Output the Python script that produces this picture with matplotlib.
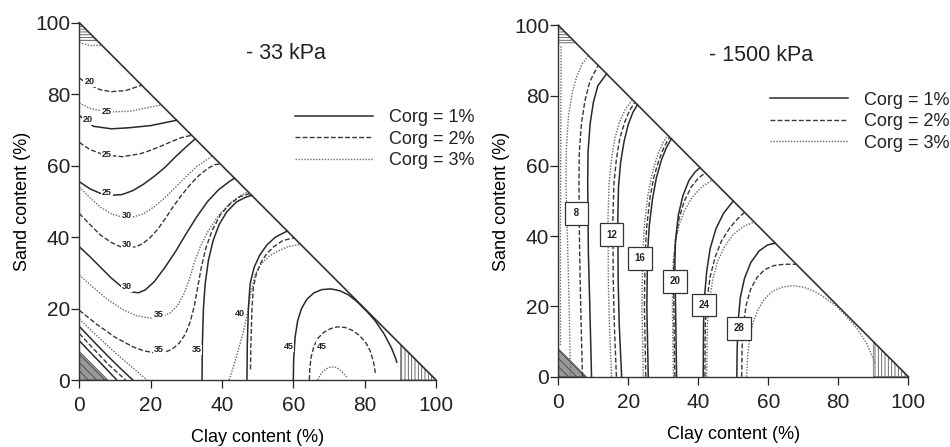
import matplotlib
matplotlib.use('Agg')
import matplotlib.pyplot as plt
from matplotlib.patches import Polygon

plt.rcParams['font.family'] = ['Liberation Sans', 'DejaVu Sans']
plt.rcParams['hatch.linewidth'] = 0.6
plt.rcParams['hatch.color'] = '#555555'

# ---- -33 kPa panel: contour lines, (clay %, sand %) points ----
# Corg = 3% (dotted)
k33_c3_20 = [(0, 94.5), (3, 93.6), (6.3, 93.7)]
k33_c3_25 = [(0, 77.5), (3, 76), (8, 75), (14, 75.2), (19, 76.2), (23, 77)]
k33_c3_30 = [(0, 54), (3, 51), (6, 48.3), (9, 46.5), (12, 45.6), (15, 45.6), (18, 46.5), (21, 48.5),
             (24, 51), (27, 54), (30, 57), (33, 59.8), (35.5, 61.5), (37.3, 62.7)]
k33_c3_35 = [(0, 29.4), (4, 25.8), (8, 22.5), (12, 19.8), (16, 18), (20, 17.3), (23, 17.6), (25.5, 18.8),
             (27.5, 20.8), (29.3, 24), (30.8, 28), (32.3, 33), (34, 37.5), (36.3, 42), (39, 46),
             (42, 49.3), (45, 51.5), (47.3, 52.7)]
k33_c3_40 = [(42, 0), (43.3, 4), (44.6, 8.5), (46, 13.5), (47.2, 19), (48.2, 25), (49.3, 29.5),
             (51, 32.5), (53, 34.5), (55.5, 36), (58.5, 37.3), (62, 38)]
k33_c3_45 = [(66.8, 0), (67.8, 1.8), (69, 3), (70.5, 3.7), (72, 3.5), (73.5, 2.5), (75, 0.8)]
k33_c3_low = [(0, 17), (5, 12.3), (10, 7.7), (15, 3.4), (19, 0)]
# Corg = 2% (dashed)
k33_c2_20 = [(0, 84.5), (3, 82.5), (6, 81.2), (9, 80.7), (13, 81), (17.5, 82.5)]
k33_c2_25 = [(0, 66.5), (3, 64.5), (7, 63), (12, 62.5), (17, 63.3), (20, 64.3), (23, 65.5),
             (26, 66.8), (28.5, 67.8), (31.5, 68.5)]
k33_c2_30 = [(0, 46.6), (3, 43.5), (6, 40.5), (9, 38.5), (11.5, 37.3), (13.7, 37), (16, 37.3), (18, 38.3),
             (20, 40), (22, 42.2), (24, 45), (26.3, 48.5), (28.5, 51.5), (31, 54.6), (33.5, 57.2),
             (36, 59.2), (38, 60.3), (39.6, 60.4)]
k33_c2_35 = [(0, 19.5), (5, 15.5), (10, 12), (15, 9.3), (18, 8.2), (21, 7.6), (24, 7.8), (26, 8.6),
             (28, 10.3), (29.7, 12.8), (31, 16), (32.2, 20.5), (33.2, 26), (34.2, 31.5), (35.5, 37),
             (37.3, 42), (39.6, 46.3), (42.5, 49.5), (45, 51.3), (47.8, 52.2)]
k33_c2_40 = [(48, 3), (48.1, 10), (48.4, 20), (48.8, 26), (49.7, 30), (51, 33), (52.5, 35.3),
             (54.5, 37.3), (57, 39), (60.2, 39.8)]
k33_c2_45 = [(64.5, 0), (64.6, 3), (65, 6.5), (65.8, 9.5), (67, 11.8), (68.5, 13.3), (70.5, 14.4),
             (72.5, 14.9), (74.5, 14.7), (76.5, 13.9), (78.5, 12.5), (80.3, 10.5), (81.6, 8),
             (82.5, 5), (83, 2)]
k33_c2_low = [(0, 13), (4, 8.7), (8, 4.5), (13, 0)]
# Corg = 1% (solid)
k33_c1_20 = [(0, 74), (4, 71), (9, 70.3), (14, 70.6), (20, 71.2), (27.3, 72.7)]
k33_c1_25 = [(0, 55.5), (3, 53.5), (6, 52.2), (9, 51.7), (12, 51.9), (15, 53), (18, 54.8), (21, 57),
             (24, 59.5), (27, 62.5), (30, 65.3), (32.5, 67.5)]
k33_c1_30 = [(0, 37.3), (3, 34.5), (6, 31.5), (9, 28.5), (12, 26), (14.5, 24.7), (16.5, 24.4),
             (18.5, 25.2), (21, 27.5), (24, 31.5), (27, 36), (30, 41), (33, 45.8), (36, 50),
             (39, 53.2), (42, 55.5), (43.5, 56.5)]
k33_c1_35 = [(34.4, 0), (34.5, 10), (34.8, 20), (35.3, 27), (36.2, 33.5), (37.5, 39), (39.2, 43.5),
             (41.3, 47), (44, 49.8), (46.3, 51), (48.3, 51.7)]
k33_c1_40 = [(47, 0), (47.1, 10), (47.4, 20), (47.9, 27), (49, 31.5), (50.6, 35), (52.6, 37.8),
             (55, 40), (58.3, 41.7)]
k33_c1_45 = [(60, 0), (60.1, 6), (60.5, 12), (61.2, 16.5), (62.3, 20), (63.8, 22.6), (65.8, 24.4),
             (68, 25.3), (70.5, 25.5), (73, 25), (75.5, 23.8), (78, 21.8), (80.5, 19.3), (83, 16.5),
             (85.5, 12.8), (87.5, 9), (88.6, 6.3), (89, 5)]
k33_c1_low_a = [(0, 15), (4, 10.8), (8, 6.7), (12, 2.8), (15, 0)]
k33_c1_low_b = [(0, 11), (4, 6.8), (7, 3.7), (10.5, 0)]

# contour labels (value, clay, sand)
k33_labels = [('20', 2.8, 83.5), ('20', 2.5, 72.8), ('25', 7.8, 75.1), ('25', 7.8, 63.2),
              ('25', 7.8, 52.6), ('30', 13.3, 45.9), ('30', 13.3, 37.8), ('30', 13.3, 26.1),
              ('35', 22.4, 18.2), ('35', 22.4, 8.4), ('35', 32.9, 8.4), ('40', 45, 18.7),
              ('45', 58.6, 9.3), ('45', 67.9, 9.3)]

# ---- -1500 kPa panel ----
k1500_c3_4 = [(0.8, 94), (0.7, 70), (0.6, 40), (0.6, 9)]
k1500_c3_8 = [(3.5, 0), (3.1, 20), (2.6, 40), (2.2, 55), (2.3, 65), (2.9, 74), (4, 81), (5.3, 85.5),
              (6.8, 89), (8.6, 91.4)]
k1500_c3_12 = [(15.2, 0), (14.6, 15), (14.3, 27.5), (14.2, 45), (14.5, 55), (15.2, 62), (16.2, 68),
               (17.5, 72.5), (19.2, 76.2), (21.2, 78.8)]
k1500_c3_16 = [(24.3, 0), (23.9, 20), (24.1, 35), (24.6, 43), (25.5, 51), (26.6, 57), (28, 62),
               (29.6, 66), (31.2, 68.8)]
k1500_c3_20 = [(32.9, 0), (32.6, 20), (32.8, 32), (33.4, 38), (34.6, 43.5), (36.2, 47.5), (38.2, 51),
               (41, 54), (44, 56)]
k1500_c3_24 = [(42.4, 0), (42.6, 15), (43.2, 22), (44.2, 28), (45.6, 33), (47.5, 37), (50, 40.5),
               (53, 42.8), (56, 44)]
k1500_c3_28 = [(53.8, 0), (54.1, 6), (54.7, 11), (55.6, 15.3), (57, 19), (58.8, 22), (61.2, 24.3),
               (64, 25.5), (67, 25.9), (70, 25.5), (73, 24.4), (76, 22.6), (79.5, 20), (82.4, 17.1),
               (85.5, 13.5), (88.1, 9.5), (90.5, 3.8)]
k1500_c2_8 = [(6.9, 0), (6.4, 20), (6.1, 35), (5.9, 55), (6, 64), (6.6, 72), (7.6, 78.5), (9, 84),
              (11.4, 88.6)]
k1500_c2_12 = [(16.6, 0), (16, 15), (15.7, 27.5), (15.6, 45), (15.9, 55), (16.6, 62), (17.6, 68),
               (19, 72.5), (20.4, 75.8), (21.9, 78.1)]
k1500_c2_16 = [(25, 0), (24.6, 20), (24.8, 35), (25.3, 43), (26.2, 51), (27.3, 56.8), (28.7, 61.5),
               (30.2, 65.3), (31.8, 68.2)]
k1500_c2_20 = [(33.3, 0), (33, 20), (33, 32), (33.5, 39), (34.5, 45), (36, 50), (38, 54), (40, 56.5),
               (42, 58)]
k1500_c2_24 = [(41.9, 0), (42, 15), (42.5, 22), (43.4, 28.5), (44.8, 34), (46.7, 38.8), (49.1, 42.5),
               (51.5, 45.2), (53.2, 46.8)]
k1500_c2_28 = [(52.4, 0), (52.5, 8), (52.9, 15), (53.7, 20.5), (55, 25), (56.8, 28.3), (59, 30.5),
               (61.5, 31.6), (64.5, 32), (68, 32)]
k1500_c1_8 = [(9.5, 0), (9, 20), (8.6, 35), (8.4, 55), (8.5, 64), (9.1, 72), (10, 78), (11.3, 82.8),
              (13.8, 86.2)]
k1500_c1_12 = [(18.1, 0), (17.4, 15), (17.1, 27.5), (17, 45), (17.2, 54), (17.8, 61), (18.8, 67),
               (20, 71.8), (21.3, 75.2), (22.6, 77.4)]
k1500_c1_16 = [(25.7, 0), (25.3, 20), (25.5, 35), (26, 43), (26.9, 50.5), (28, 56.5), (29.4, 61.5),
               (30.8, 65), (32.3, 67.7)]
k1500_c1_20 = [(33.8, 0), (33.5, 20), (33.3, 32), (33.5, 39), (34.3, 46), (35.6, 51.5), (37.3, 55.8),
               (39, 58.2), (40.5, 59.5)]
k1500_c1_24 = [(41.4, 0), (41.5, 15), (41.8, 23), (42.4, 30), (43.4, 36.5), (45, 42), (47.2, 46.5),
               (50, 50)]
k1500_c1_28 = [(51, 0), (51.1, 8), (51.4, 16), (52, 22.5), (53.2, 28), (55, 32.5), (57.4, 35.8),
               (59.8, 37.5), (62, 38)]

k1500_labels = [(' 8 ', 5.2, 46.5), ('12', 15.2, 40.4), ('16', 23.3, 33.7),
                ('20', 33.3, 27.1), ('24', 41.6, 20.4), ('28', 51.7, 13.8)]

corg_names = ['Corg = 1%', 'Corg = 2%', 'Corg = 3%']
ticks = [0, 20, 40, 60, 80, 100]

styles = {
    1: dict(ls='-', color='#2a2a2a', lw=1.1),
    2: dict(ls=(0, (3.5, 1.6)), color='#383838', lw=1.0),
    3: dict(ls=(0, (1, 1.1)), color='#6a6a6a', lw=1.0),
}

k33_lines = [(k33_c3_20, 3), (k33_c3_25, 3), (k33_c3_30, 3), (k33_c3_35, 3), (k33_c3_40, 3),
             (k33_c3_45, 3), (k33_c3_low, 3),
             (k33_c2_20, 2), (k33_c2_25, 2), (k33_c2_30, 2), (k33_c2_35, 2), (k33_c2_40, 2),
             (k33_c2_45, 2), (k33_c2_low, 2),
             (k33_c1_20, 1), (k33_c1_25, 1), (k33_c1_30, 1), (k33_c1_35, 1), (k33_c1_40, 1),
             (k33_c1_45, 1), (k33_c1_low_a, 1), (k33_c1_low_b, 1)]
k1500_lines = [(k1500_c3_4, 3), (k1500_c3_8, 3), (k1500_c3_12, 3), (k1500_c3_16, 3), (k1500_c3_20, 3),
               (k1500_c3_24, 3), (k1500_c3_28, 3),
               (k1500_c2_8, 2), (k1500_c2_12, 2), (k1500_c2_16, 2), (k1500_c2_20, 2),
               (k1500_c2_24, 2), (k1500_c2_28, 2),
               (k1500_c1_8, 1), (k1500_c1_12, 1), (k1500_c1_16, 1), (k1500_c1_20, 1),
               (k1500_c1_24, 1), (k1500_c1_28, 1)]


def setup(ax):
    ax.set_xlim(0, 100)
    ax.set_ylim(0, 100)
    for s in ('top', 'right'):
        ax.spines[s].set_visible(False)
    for s in ('left', 'bottom'):
        ax.spines[s].set_linewidth(1.0)
        ax.spines[s].set_color('#333333')
    ax.set_xticks(ticks)
    ax.set_yticks(ticks)
    ax.tick_params(direction='out', length=5.5, width=0.9, labelsize=15, colors='#222222')
    ax.tick_params(axis='x', pad=6)
    ax.tick_params(axis='y', pad=1)
    ax.set_xlabel('Clay content (%)', fontsize=13, labelpad=10)
    ax.set_ylabel('Sand content (%)', fontsize=13, labelpad=3)
    ax.plot([0, 100], [100, 0], color='#333333', lw=1.2, clip_on=False)
    # hatched corners
    ax.add_patch(Polygon([(0, 95), (0, 100), (5, 95)], closed=True, fill=False,
                         hatch='------', lw=0.5, edgecolor='#555555'))
    ax.add_patch(Polygon([(0, 0), (0, 8), (8, 0)], closed=True, facecolor='#9a9a9a',
                         hatch='\\\\\\\\', lw=0.5, edgecolor='#444444'))
    ax.add_patch(Polygon([(90, 0), (90, 10), (100, 0)], closed=True, fill=False,
                         hatch='|||||', lw=0.5, edgecolor='#555555'))


def draw_lines(ax, lines):
    handles = {}
    for pts, corg in lines:
        xs = [p[0] for p in pts]
        ys = [p[1] for p in pts]
        h, = ax.plot(xs, ys, solid_joinstyle='round', **styles[corg])
        handles[corg] = h
    return [handles[1], handles[2], handles[3]]


fig = plt.figure(figsize=(9.5, 4.47), dpi=100)
ax1 = fig.add_axes([79.3 / 950, (447 - 380) / 447, 356.7 / 950, 357.3 / 447])
ax2 = fig.add_axes([558.3 / 950, (447 - 376.7) / 447, 350 / 950, 351.4 / 447])

for ax, lines, title in ((ax1, k33_lines, '- 33 kPa'), (ax2, k1500_lines, '- 1500 kPa')):
    setup(ax)
    hs = draw_lines(ax, lines)
    ax.text(58, 91.5, title, fontsize=15.5, ha='center', va='center', color='#222222')
    leg = ax.legend(hs, corg_names, loc='center left', frameon=False, fontsize=13,
                    handlelength=4.3, handletextpad=0.9, labelspacing=0.25,
                    borderpad=0, borderaxespad=0,
                    bbox_to_anchor=(0.605, 0.674 if ax is ax1 else 0.726))
    leg.set_clip_on(False)
    for t in leg.get_texts():
        t.set_color('#222222')

for txt, x, y in k33_labels:
    ax1.text(x, y, txt, fontsize=6.5, fontweight='bold', ha='center', va='center', color='#222222',
             bbox=dict(boxstyle='square,pad=0.1', fc='white', ec='none'))

for txt, x, y in k1500_labels:
    ax2.text(x, y, txt, fontsize=7, fontweight='bold', ha='center', va='center', color='#222222',
             bbox=dict(boxstyle='square,pad=0.65', fc='white', ec='#333333', lw=0.9))

fig.savefig('out.png', dpi=100)
